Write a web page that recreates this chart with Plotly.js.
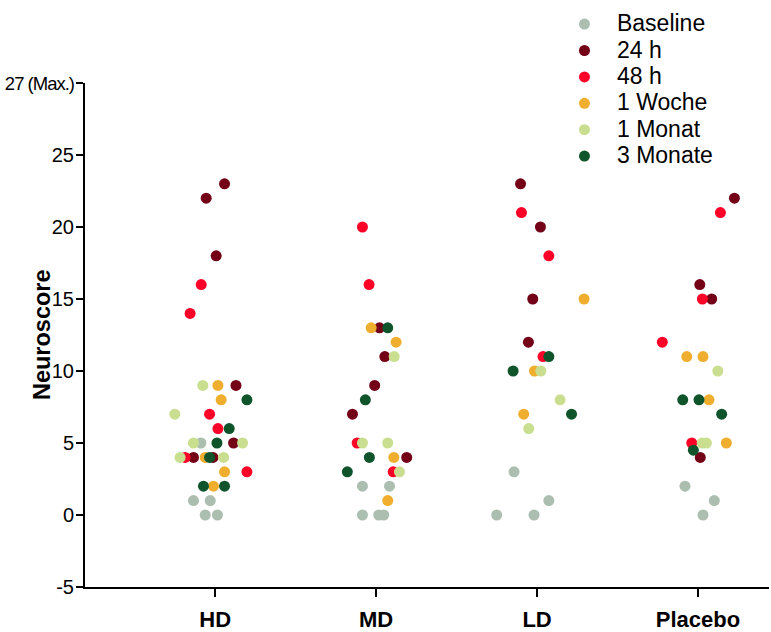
<!DOCTYPE html>
<html><head><meta charset="utf-8">
<script src="https://cdn.plot.ly/plotly-3.0.1.min.js"></script>
<style>html,body{margin:0;padding:0;background:#fff}</style>
</head><body><div id="chart" style="width:771px;height:632px"></div>
<script>
const categories = ['HD', 'MD', 'LD', 'Placebo'];
const seriesNames = ['Baseline', '24 h', '48 h', '1 Woche', '1 Monat', '3 Monate'];
const seriesColors = ['#ABBEAF', '#730016', '#FF0028', '#F0AE2E', '#C9DF8F', '#0F542A'];
const yTickValues = [-5, 0, 5, 10, 15, 20, 25, 30];
const yTickLabels = ['-5', '0', '5', '10', '15', '20', '25', '27 (Max.)'];

// group index (0=HD,1=MD,2=LD,3=Placebo), horizontal jitter (category units), score
const baselineGroup = [0,0,0,0,0, 1,1,1,1,1, 2,2,2,2, 3,3,3];
const baselineJitter = [-0.089,-0.135,-0.031,-0.062,0.014, -0.085,0.083,-0.085,0.016,0.047, -0.143,0.073,-0.251,-0.019, -0.081,0.101,0.031];
const baselineValue = [5,1,1,0,0, 2,2,0,0,0, 3,1,0,0, 2,1,0];

const h24Group = [0,0,0,0,0,0,0, 1,1,1,1,1, 2,2,2,2, 3,3,3,3];
const h24Jitter = [0.058,-0.056,0.006,0.129,0.114,-0.135,-0.014, 0.021,0.054,-0.009,-0.147,0.190, -0.103,0.021,-0.027,-0.054, 0.226,0.011,0.085,0.014];
const h24Value = [23,22,18,9,5,4,4, 13,11,9,7,4, 23,20,15,12, 22,16,15,4];

const h48Group = [0,0,0,0,0,0, 1,1,1,1, 2,2,2, 3,3,3,3];
const h48Jitter = [-0.087,-0.156,-0.035,0.017,-0.187,0.197, -0.085,-0.044,-0.118,0.106, -0.097,0.073,0.037, 0.139,0.027,-0.222,-0.039];
const h48Value = [16,14,7,6,4,3, 20,16,5,3, 21,18,11, 21,15,12,5];

const week1Group = [0,0,0,0,0, 1,1,1,1, 2,2,2, 3,3,3,3];
const week1Jitter = [0.017,0.037,-0.062,0.058,-0.011, -0.031,0.124,0.110,0.072, 0.292,-0.016,-0.083, -0.070,0.031,0.068,0.176];
const week1Value = [9,8,4,3,2, 13,12,4,1, 15,10,7, 11,11,8,5];

const month1Group = [0,0,0,0,0,0, 1,1,1,1, 2,2,2, 3,3,3];
const month1Jitter = [-0.077,-0.251,-0.135,0.170,-0.218,0.052, 0.112,-0.085,0.072,0.145, 0.023,0.143,-0.052, 0.123,0.026,0.052];
const month1Value = [9,7,5,5,4,4, 11,5,5,3, 10,8,6, 10,5,5];

const month3Group = [0,0,0,0,0,0, 1,1,1,1, 2,2,2, 3,3,3,3];
const month3Jitter = [0.197,0.087,0.011,-0.035,-0.073,0.058, 0.072,-0.067,-0.042,-0.179, 0.073,-0.149,0.214, -0.095,0.006,0.147,-0.029];
const month3Value = [8,6,5,4,2,2, 13,8,4,3, 11,10,7, 8,8,7,4.5];

const seriesData = [
  [baselineGroup, baselineJitter, baselineValue],
  [h24Group, h24Jitter, h24Value],
  [h48Group, h48Jitter, h48Value],
  [week1Group, week1Jitter, week1Value],
  [month1Group, month1Jitter, month1Value],
  [month3Group, month3Jitter, month3Value]
];

const FONT = 'Arial, "Liberation Sans", sans-serif';

const traces = seriesData.map(function (s, i) {
  return {
    type: 'scatter',
    mode: 'markers',
    name: '<span style="font-size:23px">' + seriesNames[i] + '</span>',
    x: s[0].map(function (g, k) { return g + s[1][k]; }),
    y: s[2],
    marker: { color: seriesColors[i], size: 11, line: { width: 0 } },
    hoverinfo: 'y'
  };
});

const yTickText = yTickLabels.map(function (t) {
  return t.length > 3 ? '<span style="font-size:18.5px;letter-spacing:-1px">' + t + '</span>' : t;
});

const layout = {
  width: 771, height: 632,
  margin: { l: 85, r: 2, t: 83, b: 45 },
  paper_bgcolor: '#fff', plot_bgcolor: '#fff',
  font: { family: FONT, color: '#000' },
  showlegend: true,
  legend: {
    x: 0.6827, xanchor: 'left', y: 1.153, yanchor: 'top',
    font: { size: 18, family: FONT, color: '#000' },
    itemwidth: 55, bgcolor: 'rgba(0,0,0,0)', borderwidth: 0
  },
  xaxis: {
    range: [-0.809, 3.441],
    tickmode: 'array', tickvals: [0, 1, 2, 3], ticktext: categories,
    tickfont: { size: 22, family: FONT, weight: 'bold', color: '#000' },
    ticks: 'outside', ticklen: 8, tickwidth: 2, tickcolor: '#000',
    ticklabelstandoff: 4,
    showline: true, linewidth: 2, linecolor: '#000',
    showgrid: false, zeroline: false
  },
  yaxis: {
    range: [-5, 30],
    tickmode: 'array', tickvals: yTickValues, ticktext: yTickText,
    tickfont: { size: 20, family: FONT, color: '#000' },
    ticks: 'outside', ticklen: 7, tickwidth: 2, tickcolor: '#000',
    ticklabelstandoff: -2,
    showline: true, linewidth: 2, linecolor: '#000',
    showgrid: false, zeroline: false
  },
  annotations: [{
    text: '<b>Neuroscore</b>', textangle: -90,
    xref: 'paper', yref: 'paper', x: -0.0628, y: 0.5,
    xanchor: 'center', yanchor: 'middle', showarrow: false,
    font: { size: 23.5, family: FONT, color: '#000' }
  }]
};

Plotly.newPlot('chart', traces, layout, { displayModeBar: false, staticPlot: true });
</script>
</body></html>
